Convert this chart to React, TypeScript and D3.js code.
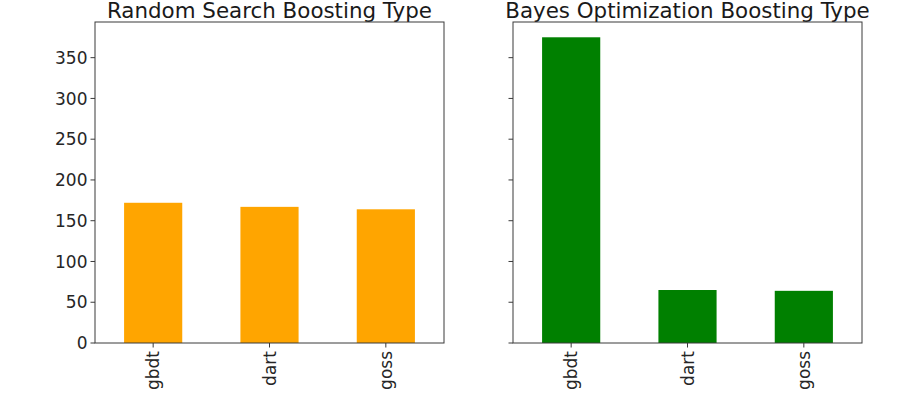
import React from "react";
import * as d3 from "d3";

const categories = ["gbdt", "dart", "goss"];
const randomValues = [172, 167, 164];
const bayesValues = [375, 65, 64];
const yTicks = [0, 50, 100, 150, 200, 250, 300, 350];
const titles = ["Random Search Boosting Type", "Bayes Optimization Boosting Type"];
const colors = ["#FFA500", "#008000"];

const W = 920, H = 403;
const top = 22, bottom = 343;
const panels = [
  { x0: 95, x1: 444, values: randomValues, showLabels: true },
  { x0: 513, x1: 862, values: bayesValues, showLabels: false },
];

const yMax = d3.max([...randomValues, ...bayesValues])! * 1.05;
const y = d3.scaleLinear().domain([0, yMax]).range([bottom, top]);
const font = "DejaVu Sans, sans-serif";
const textColor = "#262626";
const spine = "#3a3a3a";
const tickLen = 4.5;

export default function App() {
  return (
    <svg width={W} height={H} style={{ position: "absolute", left: 0, top: 0, background: "#fff" }}>
      {panels.map((p, i) => {
        const x = d3.scaleLinear().domain([-0.5, categories.length - 0.5]).range([p.x0, p.x1]);
        const bw = x(0.25) - x(-0.25);
        return (
          <g key={i}>
            <text x={(p.x0 + p.x1) / 2} y={17.8} textAnchor="middle" fontFamily={font} fontSize={21.4} fill="#1a1a1a">
              {titles[i]}
            </text>
            {p.values.map((v, j) => (
              <rect key={j} x={x(j) - bw / 2} y={y(v)} width={bw} height={bottom - y(v)} fill={colors[i]} />
            ))}
            <rect x={p.x0} y={top} width={p.x1 - p.x0} height={bottom - top} fill="none" stroke={spine} strokeWidth={1} />
            {yTicks.map((t) => (
              <g key={t}>
                <line x1={p.x0 - tickLen} x2={p.x0} y1={y(t)} y2={y(t)} stroke={spine} strokeWidth={1} />
                {p.showLabels && (
                  <text x={p.x0 - tickLen - 3} y={y(t)} dy="0.36em" textAnchor="end" fontFamily={font} fontSize={17} fill={textColor}>
                    {t}
                  </text>
                )}
              </g>
            ))}
            {categories.map((c, j) => (
              <g key={c}>
                <line x1={x(j)} x2={x(j)} y1={bottom} y2={bottom + tickLen} stroke={spine} strokeWidth={1} />
                <text
                  transform={`translate(${x(j)},${bottom + tickLen + 3.5}) rotate(-90)`}
                  textAnchor="end"
                  dy="0.36em"
                  fontFamily={font}
                  fontSize={17}
                  fill={textColor}
                >
                  {c}
                </text>
              </g>
            ))}
          </g>
        );
      })}
    </svg>
  );
}
